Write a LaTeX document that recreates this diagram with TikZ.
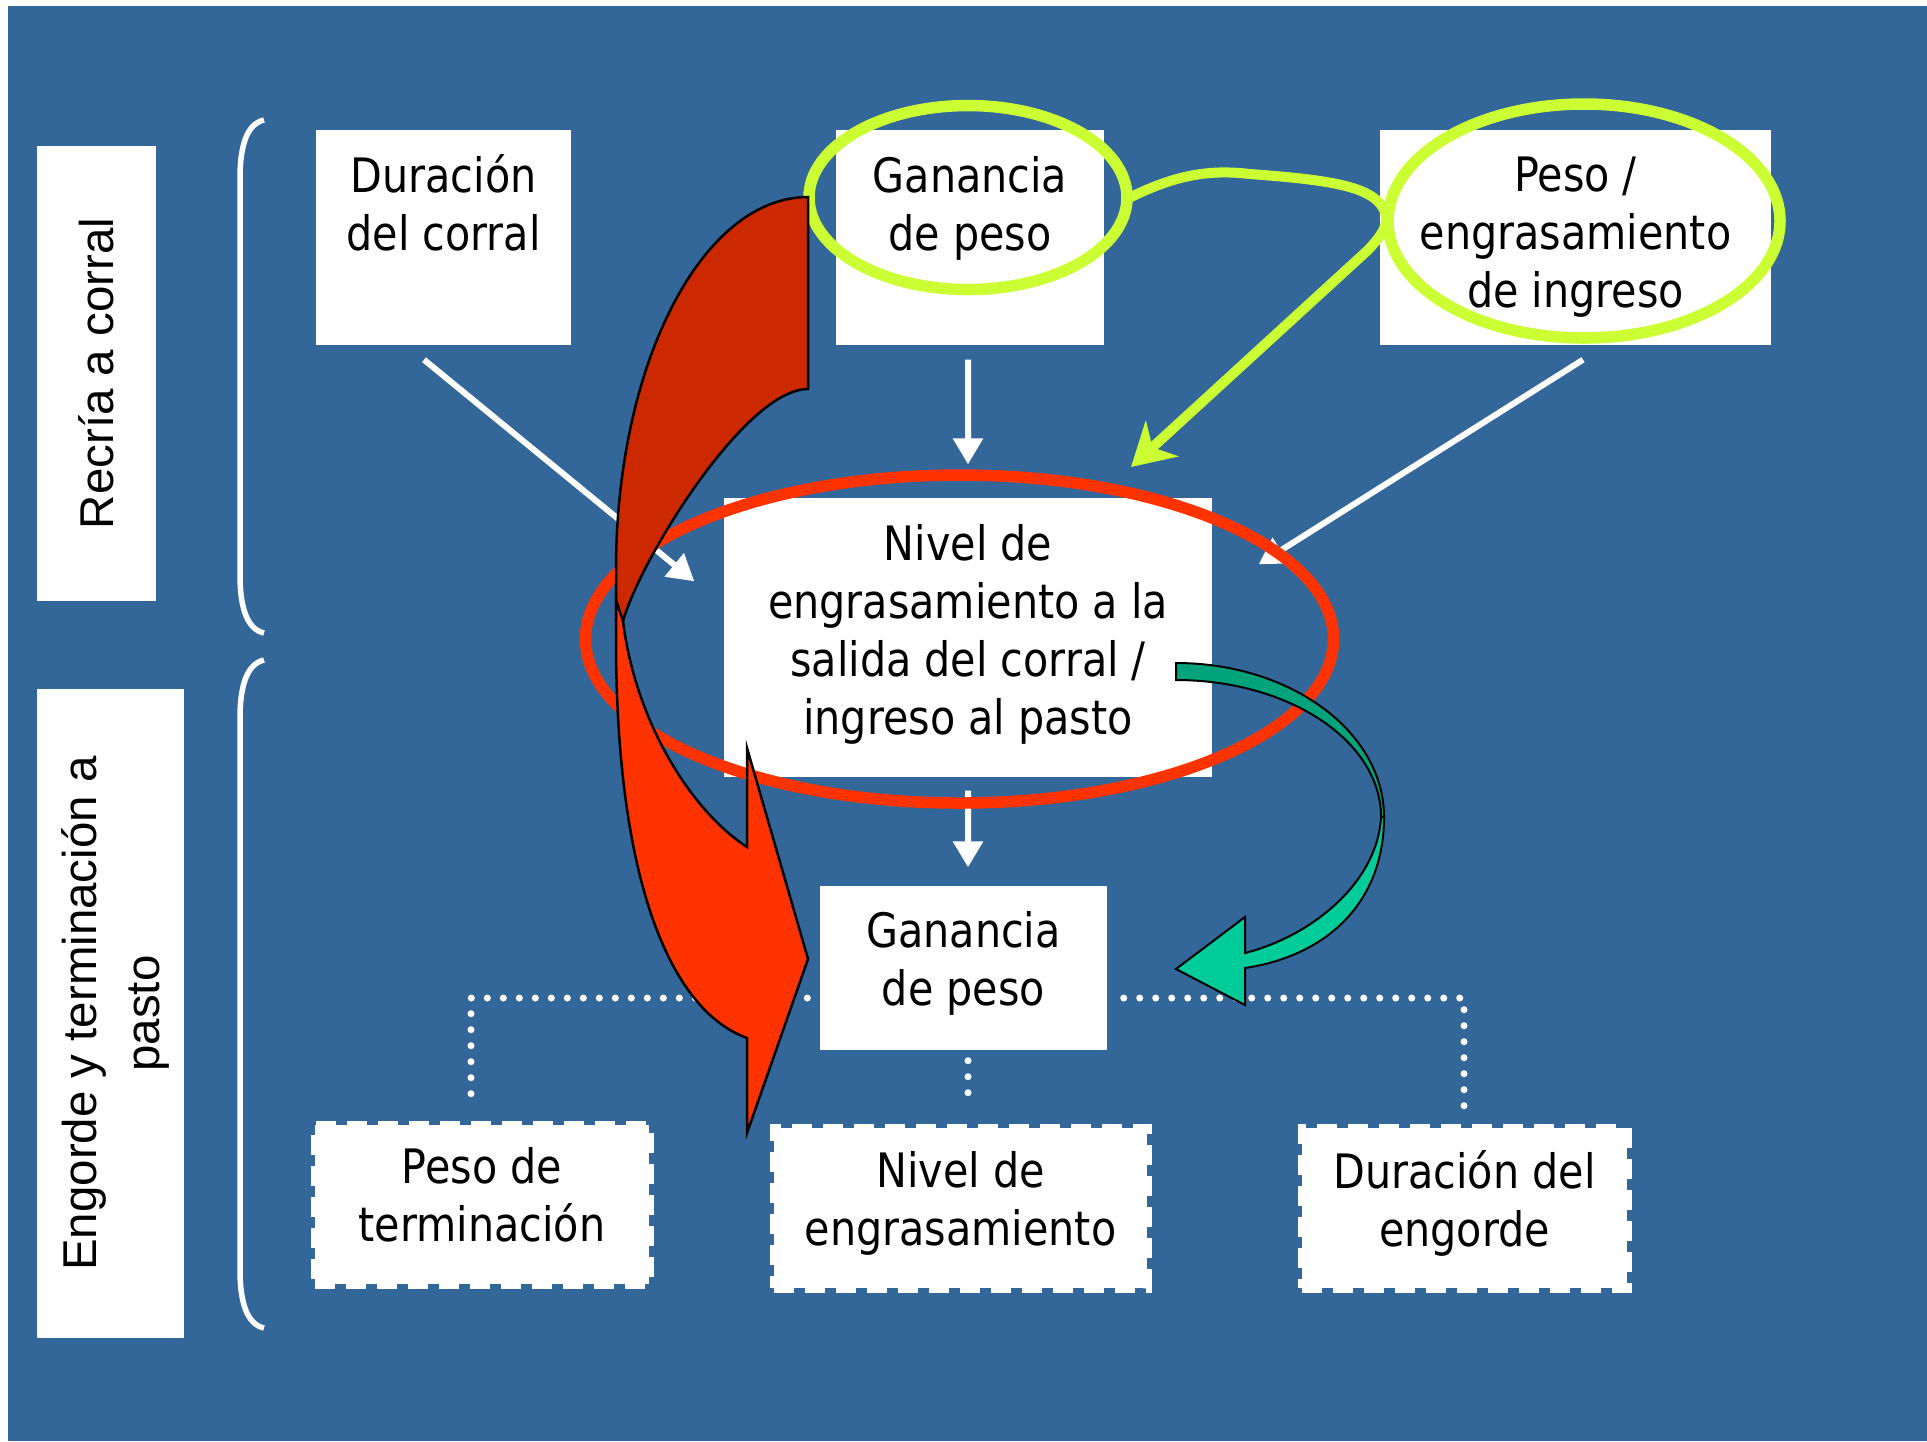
\documentclass[tikz,border=0pt]{standalone}
\usepackage{fontspec}
\setmainfont[FakeStretch=0.87]{DejaVu Sans}
\newfontfamily\sidefont{Liberation Sans}
\usetikzlibrary{arrows.meta}
\definecolor{bgblue}{RGB}{51,102,153}
\definecolor{limeg}{RGB}{204,255,51}
\definecolor{redell}{RGB}{255,51,0}
\definecolor{darkred}{RGB}{204,41,0}
\definecolor{grdark}{RGB}{0,163,122}
\definecolor{grlight}{RGB}{0,204,153}
\begin{document}
\begin{tikzpicture}[x=0.1mm,y=-0.1mm,
  box/.style={fill=white, inner sep=0pt, align=center, text depth=2mm, font=\fontsize{13.5}{16.5}\selectfont},
  dbox/.style={box, draw=white, line width=0.9mm, dash pattern=on 2mm off 1.1mm},
  side/.style={fill=white, inner sep=0pt, rotate=90, align=center, font=\sidefont\fontsize{13.5}{18}\selectfont},
  wharrow/.style={white, line width=0.6mm, -{Triangle[length=2.6mm,width=2.9mm]}},
  dotline/.style={white, line width=0.7mm, line cap=round, dash pattern=on 0pt off 1.6mm},
  brace/.style={white, line width=0.55mm},
  ring/.style={line width=1.15mm}]
% background
\fill[white] (0,0) rectangle (1927,1441);
\fill[bgblue] (8,6) rectangle (1927,1441);

% stages
\node[side, minimum width=45.5mm, minimum height=11.9mm] (recria) at (96.5,373.5) {Recría a corral};
\node[side, minimum width=64.9mm, minimum height=14.7mm, text depth=0mm] (engorde) at (110.5,1013.5) {Engorde y terminación a\\pasto};
\draw[brace] (264,120) .. controls (246,124) and (240,148) .. (240,178) -- (240,575) .. controls (240,605) and (246,629) .. (264,633);
\draw[brace] (264,660) .. controls (246,664) and (240,688) .. (240,718) -- (240,1270) .. controls (240,1300) and (246,1324) .. (264,1328);

% boxes
\node[box, text depth=1.2mm, minimum width=25.5mm, minimum height=21.5mm] (dur) at (443.5,237.5) {Duración\\del corral\\\mbox{}};
\node[box, text depth=1.1mm, minimum width=26.8mm, minimum height=21.5mm] (gan) at (970,237.5) {Ganancia\\de peso\\\mbox{}};
\node[box, text depth=1.1mm, minimum width=39.1mm, minimum height=21.5mm] (peso) at (1575.5,237.5) {Peso /\\engrasamiento\\de ingreso};
\node[box, text depth=1.7mm, minimum width=48.8mm, minimum height=27.9mm] (niv) at (968,637.5) {Nivel de\\engrasamiento a la\\salida del corral /\\ingreso al pasto};
\node[box, minimum width=28.7mm, minimum height=16.4mm] (gan2) at (963.5,968) {Ganancia\\de peso};
\node[dbox, minimum width=33.4mm, minimum height=15.9mm] (peso2) at (482,1204.5) {Peso de\\terminación};
\node[dbox, minimum width=37.3mm, minimum height=16mm] (niv2) at (960.5,1208) {Nivel de\\engrasamiento};
\node[dbox, minimum width=32.5mm, minimum height=16mm] (dure) at (1464.5,1208) {Duración del\\engorde};

% white arrows
\draw[wharrow] ([xshift=-1.95mm,yshift=-1.4mm]dur.south) -- ([xshift=-2.9mm,yshift=-8.4mm]niv.north west);
\draw[wharrow] ([xshift=-0.2mm,yshift=-1.4mm]gan.south) -- ([yshift=3.3mm]niv.north);
\draw[wharrow] ([xshift=0.75mm,yshift=-1.4mm]peso.south) -- ([xshift=4.6mm,yshift=-6.7mm]niv.north east);
\draw[wharrow] ([yshift=-1.3mm]niv.south) -- ([xshift=0.45mm,yshift=1.8mm]gan2.north);

% dotted links
\coordinate (dl) at (471,998);
\coordinate (dr) at (1464,998);
\draw[dotline, shorten <=1.2mm, shorten >=1.5mm] (gan2.west |- dl) -- (dl) -- (dl |- peso2.north);
\draw[dotline, shorten <=1.6mm, shorten >=0.4mm] (gan2.east |- dr) -- (dr) -- (dr |- dure.north);
\draw[dotline, shorten <=1mm, shorten >=1.6mm] (gan2.south -| niv.south) -- (niv2.north -| niv.south);

% green rings
\draw[limeg, ring] ([xshift=-0.2mm,yshift=4mm]gan.center) ellipse [x radius=15.9mm, y radius=9.2mm];
\draw[limeg, ring] ([xshift=0.85mm,yshift=1.65mm]peso.center) ellipse [x radius=19.6mm, y radius=11.7mm];
\draw[limeg, line width=1mm, -{Stealth[length=4.2mm,width=4.8mm,inset=1.3mm]}] (1127,199) .. controls (1180,172) and (1215,170) .. (1250,174) .. controls (1330,180) and (1375,186) .. (1385,212) .. controls (1390,225) and (1380,237) .. (1368,250) -- (1131,467);

% red ring
\draw[redell, ring] ([xshift=-0.85mm,yshift=-0.15mm]niv.center) ellipse [x radius=37.4mm, y radius=16.4mm];

% green curved arrow
\filldraw[fill=grdark, draw=black, line width=0.2mm] (1176,663) .. controls (1291,663) and (1384,732) .. (1384,817) -- (1381,817) .. controls (1381,741) and (1289,680) .. (1176,680) -- cycle;
\filldraw[fill=grlight, draw=black, line width=0.2mm] (1381,817) -- (1384,817) .. controls (1384,900) and (1330,955) .. (1245,968) -- (1245,1005) -- (1176,969) -- (1245,917) -- (1245,953) .. controls (1315,935) and (1378,880) .. (1381,817) -- cycle;

% red curved arrow
\filldraw[fill=darkred, draw=black, line width=0.25mm] (808,197) -- (808,389) .. controls (745,389) and (640,560) .. (623,621) -- (616,621) -- (616,570) .. controls (616,364) and (702,197) .. (808,197) -- cycle;
\filldraw[fill=redell, draw=black, line width=0.25mm] (616,600) -- (616,640) .. controls (616,880) and (670,1010) .. (747,1038) -- (747,1133) -- (808,959) -- (747,748) -- (747,847) .. controls (690,810) and (635,720) .. (623,621) -- cycle;
\end{tikzpicture}
\end{document}
